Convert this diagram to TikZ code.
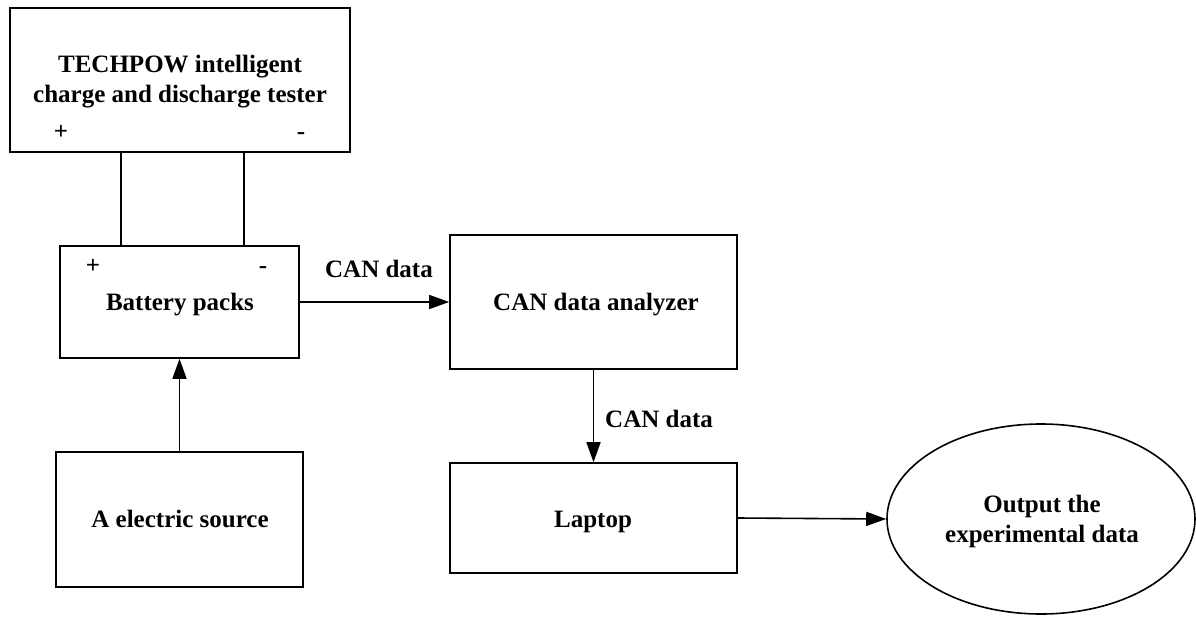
\documentclass[tikz,border=0pt]{standalone}
\usepackage{fontspec}
\setmainfont{Liberation Serif}
\usetikzlibrary{shapes.geometric,arrows.meta}
\begin{document}
\begin{tikzpicture}[x=1pt,y=-1pt,
  every node/.style={font=\fontsize{25}{30}\selectfont\bfseries},
  box/.style={draw,line width=1.6pt,inner sep=0pt,anchor=center},
  txt/.style={anchor=base,inner sep=0pt},
  wire/.style={line width=1.6pt},
  arr/.style={line width=1.6pt,-{Triangle[length=20pt,width=14pt]}}]
\useasboundingbox (0,0) rectangle (1196,618);
% boxes
\node[box,minimum width=340pt,minimum height=144pt] (tester) at (180,80) {};
\node[box,minimum width=239pt,minimum height=112pt] (battery) at (179.5,302) {};
\node[box,minimum width=287pt,minimum height=134pt] (analyzer) at (593.5,302) {};
\node[box,minimum width=247pt,minimum height=135pt] (source) at (179.5,519.5) {};
\node[box,minimum width=287pt,minimum height=110pt] (laptop) at (593.5,518) {};
\node[box,ellipse,minimum width=308pt,minimum height=190pt] (out) at (1041,519) {};
% texts
\node[txt] (t1) at (180,73) {TECHPOW intelligent};
\node[txt] (t2) at (180,102) {charge and discharge tester};
\node[txt] (tp) at (61,139) {+};
\node[txt] (tm) at (301,139) {-};
\node[txt] (bp) at (93,273) {+};
\node[txt] (bm) at (263,273) {-};
\node[txt] (bt) at (180,310) {Battery packs};
\node[txt] (at) at (596,310) {CAN data analyzer};
\node[txt] (st) at (180,527) {A electric source};
\node[txt] (lt) at (593,527) {Laptop};
\node[txt] (o1) at (1042,512) {Output the};
\node[txt] (o2) at (1042,542) {experimental data};
\node[txt] (c1) at (379,277) {CAN data};
\node[txt,anchor=base west] (c2) at (605,427) {CAN data};
% connectors
\draw[wire] (121,0 |- tester.south) -- (121,0 |- battery.north);
\draw[wire] (244,0 |- tester.south) -- (244,0 |- battery.north);
\draw[arr] (source.north) -- (battery.south);
\draw[arr] (battery.east) -- (analyzer.west);
\draw[arr] (analyzer.south) -- (laptop.north);
\draw[arr] (laptop.east) -- (out.west);
\end{tikzpicture}
\end{document}
